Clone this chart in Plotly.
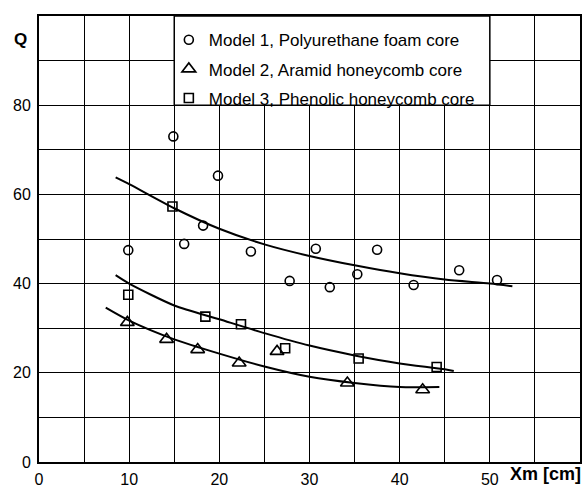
import plotly.graph_objects as go

# ---- data ----
m1_x = [9.9, 14.9, 16.1, 18.2, 19.85, 23.5, 27.8, 30.7, 32.25, 35.3, 37.5, 41.55, 46.6, 50.8]
m1_y = [47.5, 73.0, 48.9, 53.0, 64.2, 47.2, 40.6, 47.8, 39.2, 42.1, 47.6, 39.7, 43.0, 40.8]

m2_x = [9.8, 14.15, 17.6, 22.2, 26.4, 34.2, 42.55]
m2_y = [31.3, 27.5, 25.2, 22.2, 24.8, 17.7, 16.2]

m3_x = [9.9, 14.8, 18.45, 22.4, 27.3, 35.45, 44.1]
m3_y = [37.5, 57.3, 32.6, 30.9, 25.5, 23.2, 21.3]

c1_x = [8.5, 10, 15, 20, 25, 30, 35, 40, 45, 50, 52.5]
c1_y = [63.8, 62.3, 56.9, 52.3, 48.8, 46.2, 44.1, 42.3, 40.9, 40.0, 39.4]

c2_x = [7.4, 10, 15, 20, 25, 30, 35, 40, 44.4]
c2_y = [34.6, 31.7, 27.5, 24.3, 21.4, 19.1, 17.7, 16.8, 16.8]

c3_x = [8.5, 10, 15, 20, 25, 30, 35, 40, 45, 46]
c3_y = [41.9, 40.0, 35.1, 32.0, 28.9, 26.1, 23.9, 22.1, 20.8, 20.4]

names = ["Model 1, Polyurethane foam core",
         "Model 2, Aramid honeycomb core",
         "Model 3, Phenolic honeycomb core"]

x_ticks = [0, 10, 20, 30, 40, 50]
y_ticks = [0, 20, 40, 60, 80]

FONT = "Liberation Sans, Arial, sans-serif"

fig = go.Figure()

for cx, cy in [(c1_x, c1_y), (c2_x, c2_y), (c3_x, c3_y)]:
    fig.add_trace(go.Scatter(x=cx, y=cy, mode="lines",
                             line=dict(color="black", width=2, shape="spline", smoothing=0.7),
                             showlegend=False, hoverinfo="skip"))

marker_specs = [
    (m1_x, m1_y, "circle-open", 9),
    (m2_x, m2_y, "triangle-up-open", 12),
    (m3_x, m3_y, "square-open", 9),
]
for i, (mx, my, sym, sz) in enumerate(marker_specs):
    fig.add_trace(go.Scatter(x=mx, y=my, mode="markers", name=names[i], legendgroup=f"g{i}",
                             marker=dict(symbol=sym, size=sz, color="black",
                                         line=dict(color="black", width=1.6))))

# white legend box bounded by grid lines
fig.add_shape(type="rect", xref="x", yref="y", x0=15, x1=50, y0=80, y1=100,
              fillcolor="white", line=dict(color="black", width=1.5), layer="above")

fig.add_annotation(text="<b>Q</b>", xref="paper", yref="paper", x=-0.035, y=0.947,
                   showarrow=False, font=dict(family=FONT, size=17, color="black"),
                   xanchor="center", yanchor="middle")
fig.add_annotation(text="<b>Xm [cm]</b>", xref="paper", yref="paper", x=1.006, y=-0.026,
                   showarrow=False, font=dict(family=FONT, size=18, color="black"),
                   xanchor="right", yanchor="middle")

fig.update_layout(
    width=587, height=493,
    margin=dict(l=39, r=5, t=16, b=21),
    paper_bgcolor="white", plot_bgcolor="white",
    font=dict(family=FONT, size=16, color="black"),
    legend=dict(x=0.24, y=0.986, xanchor="left", yanchor="top", bgcolor="rgba(0,0,0,0)",
                font=dict(family=FONT, size=17, color="black"), tracegroupgap=4, itemwidth=30),
    showlegend=True,
)
fig.update_xaxes(range=[0, 60], tickvals=x_ticks, ticktext=[str(v) for v in x_ticks],
                 showgrid=False, zeroline=False, showline=True, linecolor="black", linewidth=2, mirror=True,
                 ticks="", ticklabelstandoff=2, fixedrange=True,
                 minor=dict(dtick=5, tick0=0, showgrid=True, gridcolor="black", gridwidth=1.4))
fig.update_yaxes(range=[0, 100], tickvals=y_ticks, ticktext=[str(v) for v in y_ticks],
                 showgrid=False, zeroline=False, showline=True, linecolor="black", linewidth=2, mirror=True,
                 ticks="", ticklabelstandoff=3, fixedrange=True,
                 minor=dict(dtick=10, tick0=0, showgrid=True, gridcolor="black", gridwidth=1.4))

fig.write_html("out.html", config={"displayModeBar": False},
               post_script="document.body.style.margin='0';")
